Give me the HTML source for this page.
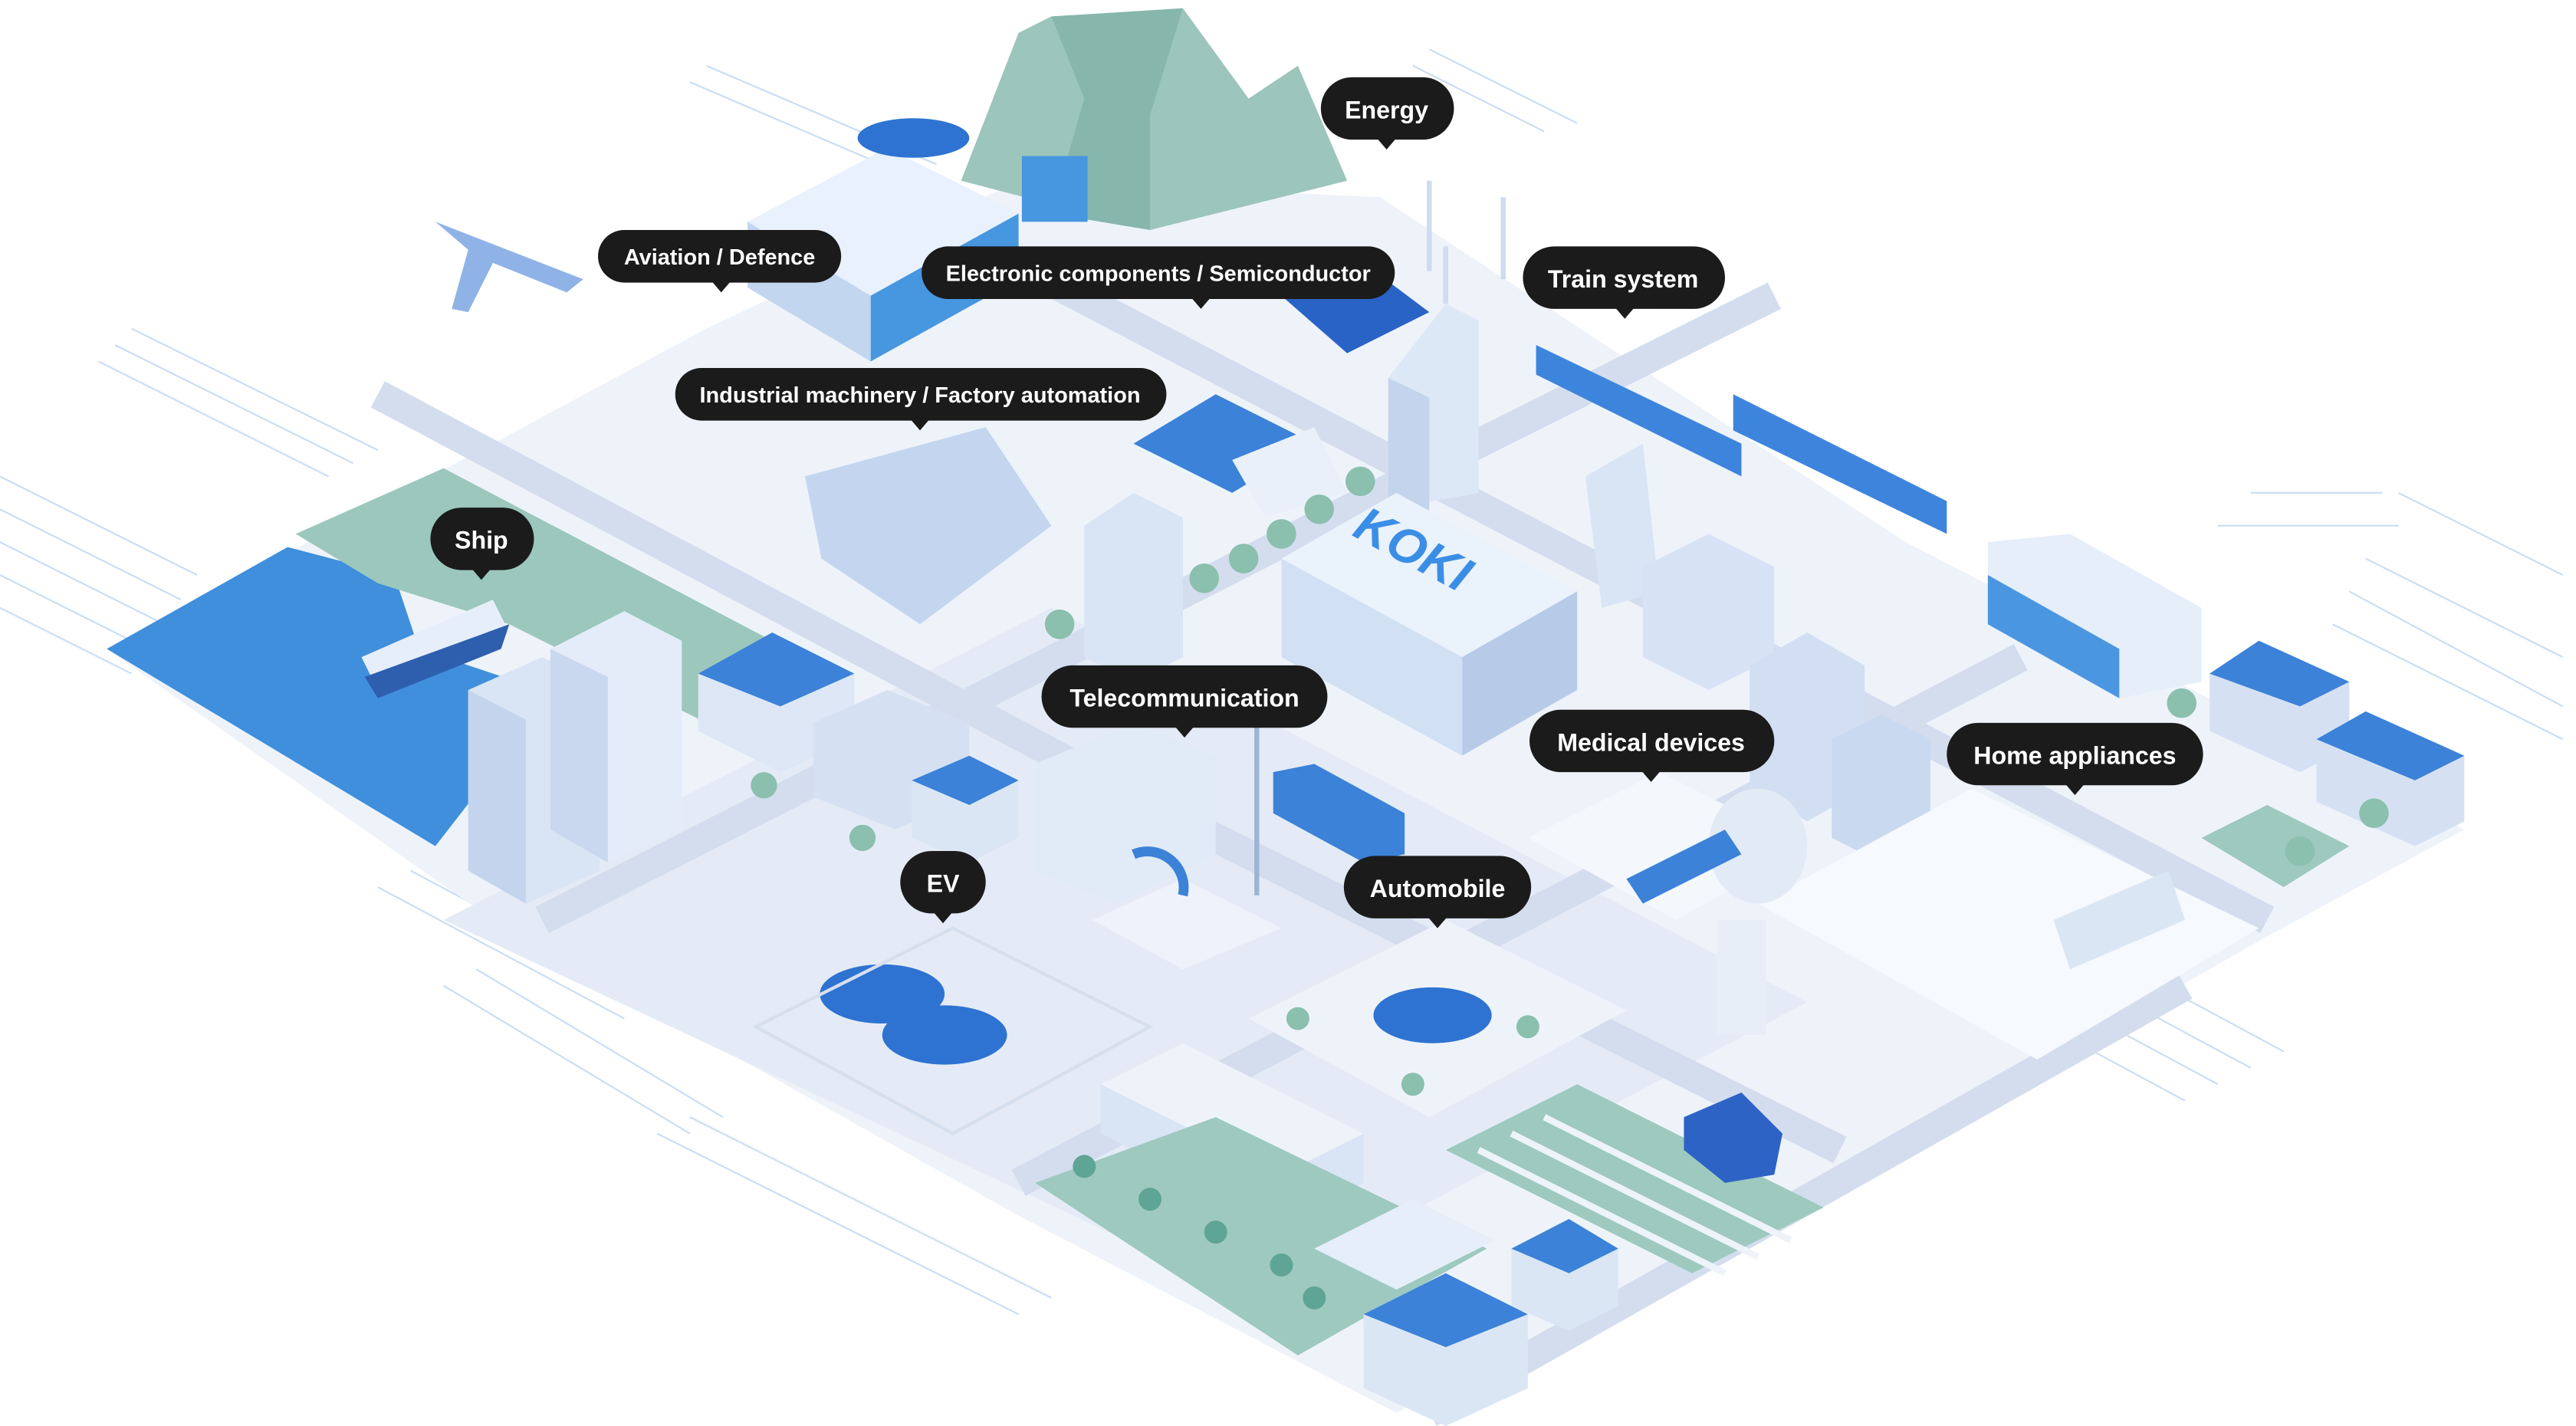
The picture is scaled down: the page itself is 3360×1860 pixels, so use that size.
<!DOCTYPE html>
<html><head><meta charset="utf-8"><style>
html,body{margin:0;padding:0;background:#fff;}
svg{display:block;}
text{font-family:"Liberation Sans",sans-serif;font-weight:bold;fill:#fff;}
</style></head><body>
<svg width="3360" height="1860" viewBox="0 0 1568 868" preserveAspectRatio="none" xmlns="http://www.w3.org/2000/svg">
<rect width="1568" height="868" fill="#fff"/>
<!-- circuit lines -->
<g stroke="#c9ddf3" stroke-width="1" fill="none">
<path d="M0 290 L120 350 M0 310 L110 365 M0 330 L100 380 M0 350 L90 395 M0 370 L80 410"/>
<path d="M60 220 L200 290 M70 210 L215 282 M80 200 L230 274"/>
<path d="M1370 300 L1450 300 M1350 320 L1460 320 M1460 300 L1560 350 M1440 340 L1560 400 M1430 360 L1560 430 M1420 380 L1560 450"/>
<path d="M1200 600 L1330 670 M1220 590 L1350 660 M1240 580 L1370 650 M1260 570 L1390 640"/>
<path d="M230 540 L380 620 M250 530 L400 610 M270 600 L420 690 M290 590 L440 680"/>
<path d="M400 690 L620 800 M420 680 L640 790 M860 40 L940 80 M870 30 L960 75 M420 50 L560 110 M430 40 L570 100"/>
</g>
<!-- main ground -->
<polygon points="65,395 300,270 430,200 620,110 840,120 1160,330 1500,505 1380,570 1170,690 850,860 620,740 300,560" fill="#eef3fa"/>
<polygon points="270,560 640,370 1100,610 760,790" fill="#e4ebf6"/>
<!-- roads -->
<g stroke="#d3ddee" stroke-width="18" fill="none" stroke-linecap="butt">
<path d="M230 240 L700 490 L1120 700"/>
<path d="M560 130 L1000 360 L1380 560"/>
<path d="M330 560 L860 290 L1080 180"/>
<path d="M620 720 L1000 520 L1230 400"/>
<path d="M870 860 L1330 600"/>
</g>
<!-- water -->
<polygon points="65,395 175,333 240,350 255,395 330,420 300,470 265,515" fill="#3f8fdc"/>
<polygon points="180,325 270,285 470,390 430,440 310,380 230,355" fill="#9cc7bc"/>
<!-- mountains -->
<polygon points="585,110 620,20 640,10 680,60 720,5 760,60 790,40 820,110 700,140" fill="#9cc5bc"/>
<polygon points="640,10 660,60 640,130 700,140 700,70 720,5" fill="#86b6ac"/>
<!-- factory building -->
<polygon points="455,135 540,90 620,130 530,180" fill="#e8f1fc"/>
<polygon points="455,135 530,180 530,220 455,175" fill="#c3d6ef"/>
<polygon points="530,180 620,130 620,170 530,220" fill="#4796e0"/>
<rect x="622" y="95" width="40" height="40" fill="#4796e0"/>
<!-- car top -->
<ellipse cx="556" cy="84" rx="34" ry="12" fill="#2e73d1"/>
<!-- plane -->
<path d="M265 135 L355 170 L345 178 L300 160 L285 190 L275 188 L285 152 Z" fill="#8fb3e6"/>
<!-- solar panels -->
<polygon points="780,180 830,160 870,190 820,215" fill="#2a63c6"/>
<!-- windmills -->
<g stroke="#cfdcee" stroke-width="3"><line x1="870" y1="110" x2="870" y2="165"/><line x1="915" y1="120" x2="915" y2="170"/><line x1="880" y1="150" x2="880" y2="185"/></g>
<!-- tall tower -->
<polygon points="845,230 880,185 900,195 900,300 845,310" fill="#dde8f6"/>
<polygon points="845,230 870,242 870,320 845,310" fill="#c3d4ec"/>
<!-- train -->
<polygon points="935,210 1060,270 1060,290 935,228" fill="#3d85dc"/>
<polygon points="1055,240 1185,305 1185,325 1055,262" fill="#3d85dc"/>
<!-- industrial machines -->
<polygon points="490,290 600,260 640,320 560,380 500,340" fill="#c4d6ef"/>
<polygon points="690,270 740,240 800,270 750,300" fill="#3b82d8"/>
<polygon points="750,280 800,260 820,300 770,315" fill="#e9f0fa"/>
<!-- KOKI building -->
<polygon points="780,340 850,300 960,360 890,400" fill="#eaf2fc"/>
<polygon points="780,340 890,400 890,460 780,400" fill="#d2e0f3"/>
<polygon points="890,400 960,360 960,420 890,460" fill="#b7cbe9"/>
<text x="820" y="345" style="fill:#3b8ee6;font-size:30px;font-style:italic" transform="rotate(28 860 340)">KOKI</text>
<!-- buildings center -->
<polygon points="660,320 690,300 720,315 720,400 690,415 660,400" fill="#d9e5f5"/>
<polygon points="965,290 1000,270 1010,360 975,370" fill="#d9e5f5"/>
<polygon points="1000,345 1040,325 1080,345 1080,400 1040,420 1000,400" fill="#d7e3f4"/>
<polygon points="1065,405 1100,385 1135,405 1135,480 1100,500 1065,480" fill="#d2dff2"/>
<polygon points="1115,450 1145,435 1175,450 1175,510 1145,525 1115,510" fill="#c9d9f0"/>
<!-- right buildings -->
<polygon points="1210,330 1260,325 1340,370 1340,415 1290,425 1210,380" fill="#e6eefa"/>
<polygon points="1210,380 1290,425 1290,395 1210,350" fill="#4b96e0"/>
<polygon points="1345,410 1375,390 1430,415 1430,455 1400,470 1345,445" fill="#d5e1f3"/>
<polygon points="1345,410 1375,390 1430,415 1400,430" fill="#3b82d8"/>
<polygon points="1410,450 1440,433 1500,460 1500,500 1470,515 1410,488" fill="#d5e1f3"/>
<polygon points="1410,450 1440,433 1500,460 1470,475" fill="#3b82d8"/>
<polygon points="1340,510 1380,490 1430,515 1390,540" fill="#9ec9bf"/>
<!-- home appliances room -->
<polygon points="1070,550 1200,480 1375,565 1240,645" fill="#f6f9fd"/>
<polygon points="1250,560 1320,530 1330,560 1260,590" fill="#dbe6f5"/>
<rect x="1045" y="560" width="30" height="70" fill="#e8eef8"/>
<!-- medical -->
<polygon points="930,510 1010,470 1100,515 1020,560" fill="#f4f8fd"/>
<ellipse cx="1070" cy="515" rx="30" ry="35" fill="#e2eaf6"/>
<polygon points="990,535 1050,505 1060,520 1000,550" fill="#3b82d8"/>
<!-- ship -->
<polygon points="220,400 300,365 310,385 230,420" fill="#e6eefa"/>
<polygon points="222,412 310,380 305,395 230,425" fill="#2e5fae"/>
<!-- left tall buildings -->
<polygon points="285,420 330,400 365,418 365,530 320,550 285,530" fill="#d9e4f5"/>
<polygon points="285,420 320,438 320,550 285,530" fill="#c3d4ec"/>
<polygon points="335,395 380,372 415,390 415,505 370,525 335,505" fill="#e3ecf8"/>
<polygon points="335,395 370,412 370,525 335,505" fill="#c9d8ee"/>
<!-- houses -->
<polygon points="425,410 470,385 520,410 520,450 475,470 425,445" fill="#dde7f5"/>
<polygon points="425,410 470,385 520,410 475,430" fill="#3b82d8"/>
<polygon points="495,440 540,420 590,440 590,485 545,505 495,485" fill="#d5e1f3"/>
<polygon points="555,475 590,460 620,475 620,510 590,525 555,510" fill="#dbe6f5"/>
<polygon points="555,475 590,460 620,475 590,490" fill="#3b82d8"/>
<!-- telecom buildings -->
<polygon points="630,465 690,440 740,460 740,520 680,550 630,530" fill="#e1eaf7"/>
<polygon points="665,560 720,535 780,565 720,590" fill="#eef3fb"/>
<path d="M690 520 a22 22 0 0 1 30 25" stroke="#3b82d8" stroke-width="6" fill="none"/>
<line x1="765" y1="440" x2="765" y2="545" stroke="#9fb4d4" stroke-width="3"/>
<!-- bus -->
<polygon points="775,470 800,465 855,495 855,520 830,525 775,495" fill="#3b82d8"/>
<!-- EV cars -->
<ellipse cx="537" cy="605" rx="38" ry="18" fill="#2e73d1"/>
<ellipse cx="575" cy="630" rx="38" ry="18" fill="#2e73d1"/>
<polygon points="460,625 580,565 700,625 580,690" fill="none" stroke="#d6dfee" stroke-width="2"/>
<!-- automobile -->
<polygon points="760,620 880,560 990,615 870,680" fill="#eef3fa"/>
<ellipse cx="872" cy="618" rx="36" ry="17" fill="#2e73d1"/>
<!-- bottom buildings -->
<polygon points="670,660 720,635 830,690 830,720 780,745 670,690" fill="#d9e4f5"/>
<polygon points="670,660 720,635 830,690 780,715" fill="#eef3fa"/>
<polygon points="630,720 740,680 905,760 790,825" fill="#9ec9bf"/>
<g fill="#5fa596"><circle cx="660" cy="710" r="7"/><circle cx="700" cy="730" r="7"/><circle cx="740" cy="750" r="7"/><circle cx="780" cy="770" r="7"/><circle cx="800" cy="790" r="7"/></g>
<polygon points="800,760 860,730 910,755 850,785" fill="#e6eefa"/>
<polygon points="830,800 880,775 930,800 930,845 880,868 830,845" fill="#dbe6f5"/>
<polygon points="830,800 880,775 930,800 880,820" fill="#3b82d8"/>
<polygon points="920,760 955,742 985,760 985,795 955,810 920,795" fill="#dbe6f5"/>
<polygon points="920,760 955,742 985,760 955,775" fill="#3b82d8"/>
<!-- fields -->
<polygon points="880,700 960,660 1110,735 1030,775" fill="#9ec9bf"/>
<g stroke="#eef3fa" stroke-width="4"><line x1="900" y1="700" x2="1050" y2="775"/><line x1="920" y1="690" x2="1070" y2="765"/><line x1="940" y1="680" x2="1090" y2="755"/></g>
<polygon points="1025,680 1060,665 1085,690 1080,715 1050,720 1025,700" fill="#2e63c6"/>
<!-- trees -->
<g fill="#8bbfae"><circle cx="645" cy="380" r="9"/><circle cx="733" cy="352" r="9"/><circle cx="757" cy="340" r="9"/><circle cx="780" cy="325" r="9"/><circle cx="803" cy="310" r="9"/><circle cx="828" cy="293" r="9"/><circle cx="1445" cy="495" r="9"/><circle cx="1400" cy="518" r="9"/><circle cx="465" cy="478" r="8"/><circle cx="525" cy="510" r="8"/><circle cx="790" cy="620" r="7"/><circle cx="860" cy="660" r="7"/><circle cx="930" cy="625" r="7"/><circle cx="1328" cy="428" r="9"/></g>
<!-- labels -->
<g>
<rect x="804" y="47" width="81" height="38" rx="19" fill="#1b1b1b"/><polygon points="838,84 850,84 844,91" fill="#1b1b1b"/>
<text x="844" y="72" text-anchor="middle" font-size="15">Energy</text>
<rect x="364" y="140" width="148" height="32" rx="16" fill="#1b1b1b"/><polygon points="433,171 445,171 439,178" fill="#1b1b1b"/>
<text x="438" y="161" text-anchor="middle" font-size="13.5">Aviation / Defence</text>
<rect x="561" y="150" width="288" height="32" rx="16" fill="#1b1b1b"/><polygon points="725,181 737,181 731,188" fill="#1b1b1b"/>
<text x="705" y="171" text-anchor="middle" font-size="13.5">Electronic components / Semiconductor</text>
<rect x="927" y="150" width="123" height="38" rx="19" fill="#1b1b1b"/><polygon points="983,187 995,187 989,194" fill="#1b1b1b"/>
<text x="988" y="175" text-anchor="middle" font-size="15">Train system</text>
<rect x="411" y="224" width="299" height="32" rx="16" fill="#1b1b1b"/><polygon points="554,255 566,255 560,262" fill="#1b1b1b"/>
<text x="560" y="245" text-anchor="middle" font-size="13.5">Industrial machinery / Factory automation</text>
<rect x="262" y="309" width="63" height="38" rx="19" fill="#1b1b1b"/><polygon points="287,346 299,346 293,353" fill="#1b1b1b"/>
<text x="293" y="334" text-anchor="middle" font-size="15">Ship</text>
<rect x="634" y="405" width="174" height="38" rx="19" fill="#1b1b1b"/><polygon points="715,442 727,442 721,449" fill="#1b1b1b"/>
<text x="721" y="430" text-anchor="middle" font-size="15">Telecommunication</text>
<rect x="931" y="432" width="149" height="38" rx="19" fill="#1b1b1b"/><polygon points="999,469 1011,469 1005,476" fill="#1b1b1b"/>
<text x="1005" y="457" text-anchor="middle" font-size="15">Medical devices</text>
<rect x="1185" y="440" width="156" height="38" rx="19" fill="#1b1b1b"/><polygon points="1257,477 1269,477 1263,484" fill="#1b1b1b"/>
<text x="1263" y="465" text-anchor="middle" font-size="15">Home appliances</text>
<rect x="548" y="518" width="52" height="38" rx="19" fill="#1b1b1b"/><polygon points="568,555 580,555 574,562" fill="#1b1b1b"/>
<text x="574" y="543" text-anchor="middle" font-size="15">EV</text>
<rect x="818" y="521" width="114" height="38" rx="19" fill="#1b1b1b"/><polygon points="869,558 881,558 875,565" fill="#1b1b1b"/>
<text x="875" y="546" text-anchor="middle" font-size="15">Automobile</text>
</g>
</svg>
</body></html>
